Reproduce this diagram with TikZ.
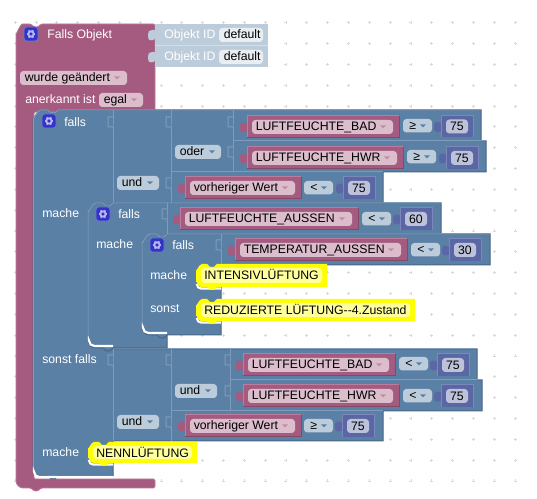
\documentclass[tikz,border=0pt]{standalone}
\usepackage{fontspec}
\setmainfont{Liberation Sans}
\definecolor{bblue}{HTML}{5B80A5}
\definecolor{blight}{HTML}{7F9DBB}
\definecolor{bdark}{HTML}{486684}
\definecolor{fblue}{HTML}{BDCCDB}
\definecolor{bpur}{HTML}{A55B80}
\definecolor{plight}{HTML}{BC7C9C}
\definecolor{pdark}{HTML}{844966}
\definecolor{fpur}{HTML}{DBBDCC}
\definecolor{bnum}{HTML}{5B67A5}
\definecolor{nlight}{HTML}{7C87BC}
\definecolor{fnum}{HTML}{BDC2DB}
\definecolor{idblock}{HTML}{BDCCDB}
\definecolor{idedge}{HTML}{D3DEE8}
\definecolor{idbox}{HTML}{E9EEF3}
\definecolor{yel}{HTML}{FFFF00}
\definecolor{yelin}{HTML}{FFFF9C}
\definecolor{gridc}{HTML}{D9D9D9}
\definecolor{iconb}{HTML}{3333CC}
\tikzset{
  x=0.75pt,y=-0.75pt,
  lbl/.style={anchor=base west,inner sep=0pt,font=\fontsize{9.2}{11}\selectfont},
  lblc/.style={anchor=base,inner sep=0pt,font=\fontsize{9.2}{11}\selectfont},
  sep/.style={draw=blight,line width=0.75pt},
  fld/.style={rounded corners=2.5pt},
}
\newcounter{nn}
% text: colour, x, baseline y, text
\newcommand\tx[4]{\stepcounter{nn}\node[lbl,text=#1] (t\thenn) at (#2,#3) {#4};}
\newcommand\gearic[2]{%
  \fill[iconb,draw=blight!70!iconb,line width=0.6pt,rounded corners=2pt] (#1-7,#2-7) rectangle (#1+7,#2+7);
  \draw[white!65!iconb,line width=1.4pt] (#1,#2) circle (2.7);
  \foreach \a in {0,60,...,300}{\draw[white!65!iconb,line width=1.1pt] (#1,#2) ++(\a:3) -- ++(\a:1.3);}
}
% nub on the left of a value block
\newcommand\nub[3]{\fill[#3,rounded corners=1.5pt] (#1+1,#2+8) -- (#1-3,#2+6) -- (#1-7,#2+7) -- (#1-7,#2+16) -- (#1-3,#2+17) -- (#1+1,#2+15) -- cycle;}
% variable block: x1, x2, y1, text
\newcommand\valb[4]{%
  \nub{#1}{#3}{bpur}
  \fill[bpur] (#1,#3) rectangle (#2,#3+22);
  \draw[plight,line width=0.75pt] (#1,#3+22) -- (#1,#3) -- (#2,#3);
  \draw[pdark,line width=0.75pt] (#2,#3) -- (#2,#3+22) -- (#1,#3+22);
  \fill[fpur,fld] (#1+5,#3+4) rectangle (#2-6,#3+18);
  \tx{black}{#1+8.5}{#3+15}{#4}
  \fill[bpur!70!white] (#2-19,#3+9.5) -- (#2-13,#3+9.5) -- (#2-16,#3+12.5) -- cycle;
}
% operator dropdown: x1, y1, symbol
\newcommand\opb[3]{%
  \fill[fblue,fld] (#1,#2) rectangle (#1+29,#2+13.5);
  \tx{black}{#1+6}{#2+10.5}{#3}
  \fill[bblue] (#1+17,#2+5.5) -- (#1+23,#2+5.5) -- (#1+20,#2+8.5) -- cycle;
}
% number block: x1, y1, number
\newcommand\numb[3]{%
  \nub{#1}{#2}{bnum}
  \fill[bnum] (#1,#2) rectangle (#1+32,#2+22);
  \draw[nlight,line width=0.75pt] (#1,#2+22) -- (#1,#2) -- (#1+32,#2) -- (#1+32,#2+22);
  \fill[fnum,fld] (#1+5,#2+4) rectangle (#1+27,#2+18);
  \stepcounter{nn}\node[lblc,text=black] (t\thenn) at (#1+16,#2+15.5) {#3};
}
% dropdown with a word: x1, x2, y1, colours
\newcommand\ddb[6]{%
  \fill[#4,fld] (#1,#3) rectangle (#2,#3+14);
  \tx{black}{#1+#6}{#3+11}{#5}
}
\newcommand\ddarrow[3]{\fill[#3] (#1-3,#2) -- (#1+3,#2) -- (#1,#2+3) -- cycle;}
% input slot on a divider: x, y
\newcommand\slot[2]{\draw[blight,line width=0.75pt,fill=bblue] (#1,#2-5) -- (#1-5,#2-5) -- (#1-5,#2+5) -- (#1,#2+5) -- (#1+0.5,#2+8);}
% yellow text block: x1, x2, y1, y2, text
\newcommand\yelb[5]{%
  \fill[yel] (#1,#3+6) to[out=-90,in=180] (#1+6,#3) -- (#1+11,#3) -- (#1+14,#3+3) -- (#1+18,#3+3) -- (#1+21,#3) -- (#2,#3) -- (#2,#4) -- (#1+21,#4) -- (#1+18,#4+3) -- (#1+14,#4+3) -- (#1+11,#4) -- (#1+5,#4) to[out=180,in=90] (#1,#4-5) -- cycle;
  \fill[yelin,fld] (#1+5,#3+4) rectangle (#2-5,#4-4);
  \tx{black}{#1+8}{#3+16}{#5}
}
\newcommand\cornerw[3]{\draw[white,line width=1.6pt,rounded corners=4pt] (#1+1,#3-6) -- (#1+1,#3-1) -- (#2,#3-1);}
\begin{document}
\begin{tikzpicture}
\useasboundingbox (0,0) rectangle (537,499);
\fill[white] (0,0) rectangle (537,499);
% workspace grid
\foreach \i in {0,...,24}{\foreach \j in {0,...,22}{
  \draw[gridc,line width=0.6pt] (15.2+20.83*\i-1.5,22.7+20.83*\j) -- ++(3,0) (15.2+20.83*\i,22.7+20.83*\j-1.5) -- ++(0,3);
}}
% hat block
\draw[fill=bpur,draw=plight,line width=0.6pt,rounded corners=1pt]
  (16,32) to[out=-90,in=180] (24,24) -- (31,24) -- (34,27) -- (38,27) -- (41,24) -- (155,24) -- (155,112) -- (34,112) -- (34,479) -- (155,479) -- (155,488) -- (41,488) -- (38,491) -- (34,491) -- (31,488) -- (24,488) to[out=180,in=-90] (16,480) -- cycle;
% object id blocks
\fill[idblock] (155,24) rectangle (268,67);
\draw[idedge,line width=0.75pt] (155,45.5) -- (268,45.5);
\fill[idblock,rounded corners=1.5pt] (156,30) -- (150,30) -- (148,32) -- (148,39) -- (150,41) -- (156,39) -- cycle;
\fill[idblock,rounded corners=1.5pt] (156,52) -- (150,52) -- (148,54) -- (148,61) -- (150,63) -- (156,61) -- cycle;
\tx{white}{164}{38.5}{Objekt ID}
\tx{white}{164}{60.8}{Objekt ID}
\ddb{219}{263}{28}{idbox}{default}{4.5}
\ddb{219}{263}{50}{idbox}{default}{4.5}
\gearic{31}{34}
\tx{white}{47}{38.5}{Falls Objekt}
\ddb{20}{127}{71}{fpur}{wurde geändert}{4.5}
\ddarrow{117}{76.5}{bpur!70!white}
\tx{white}{25}{104}{anerkannt ist}
\ddb{99}{143}{93}{fpur}{egal}{4.5}
\ddarrow{134}{98.5}{bpur!70!white}
% outer blue block
\draw[fill=bblue,draw=bdark,line width=0.75pt]
  (33,118) to[out=-90,in=180] (41,110) -- (48,110) -- (51,113) -- (55,113) -- (58,110) -- (481,110) -- (481,141) -- (486,141) -- (486,172) -- (383,172) -- (383,203) -- (113,203) -- (113,349) -- (477,349) -- (477,380) -- (482,380) -- (482,411) -- (383,411) -- (383,441) -- (113,441) -- (113,476) -- (58,476) -- (55,479) -- (51,479) -- (48,476) -- (41,476) to[out=180,in=-90] (33,468) -- cycle;
\draw[sep] (33,118) to[out=-90,in=180] (41,110) -- (48,110) -- (51,113) -- (55,113) -- (58,110) -- (481,110);
\draw[sep] (33,118) -- (33,468);
\draw[sep] (113,110) -- (113,203) (171,110) -- (171,203) (233,110) -- (233,172);
\draw[sep] (233,141) -- (486,141) (171,172) -- (383,172) (113,349) -- (477,349) (113,349) -- (113,441) (171,349) -- (171,441) (230,349) -- (230,411) (230,380) -- (482,380) (171,411) -- (383,411);
\cornerw{33}{113}{478}
% second block
\draw[fill=bblue,draw=bdark,line width=0.75pt]
  (88,211) to[out=-90,in=180] (96,203) -- (103,203) -- (106,206) -- (110,206) -- (113,203) -- (441,203) -- (441,234) -- (167,234) -- (167,348) -- (113,348) -- (110,351) -- (106,351) -- (103,348) -- (96,348) to[out=180,in=-90] (88,340) -- cycle;
\draw[sep] (88,340) -- (88,211) to[out=-90,in=180] (96,203) -- (103,203) -- (106,206) -- (110,206) -- (113,203) -- (441,203);
\cornerw{88}{113}{347}
% third block
\draw[fill=bblue,draw=bdark,line width=0.75pt]
  (142,242) to[out=-90,in=180] (150,234) -- (157,234) -- (160,237) -- (164,237) -- (167,234) -- (490,234) -- (490,265) -- (221,265) -- (221,335) -- (167,335) -- (164,338) -- (160,338) -- (157,335) -- (150,335) to[out=180,in=-90] (142,327) -- cycle;
\draw[sep] (142,327) -- (142,242) to[out=-90,in=180] (150,234) -- (157,234) -- (160,237) -- (164,237) -- (167,234) -- (490,234);
\cornerw{142}{167}{334}
\draw[sep] (167,203) -- (167,234) (221,234) -- (221,265);
% slots
\slot{113}{122}\slot{171}{122}\slot{233}{122}\slot{233}{152}\slot{171}{183}
\slot{167}{214}\slot{221}{245}
\slot{113}{360}\slot{171}{360}\slot{230}{360}\slot{230}{391}\slot{171}{422}
% labels on blue
\gearic{49}{121}
\tx{white}{64}{126.3}{falls}
\tx{white}{42}{217.5}{mache}
\gearic{103}{214}
\tx{white}{118}{218.3}{falls}
\tx{white}{96}{248.3}{mache}
\gearic{157}{245}
\tx{white}{172}{249.3}{falls}
\tx{white}{150}{279.3}{mache}
\tx{white}{150}{313}{sonst}
\tx{white}{42}{364}{sonst falls}
\tx{white}{42}{456.3}{mache}
% word dropdowns
\ddb{175}{221}{145}{fblue}{oder}{4.5}\ddarrow{212}{150.5}{bblue}
\ddb{117}{159}{176}{fblue}{und}{4.5}\ddarrow{150}{181.5}{bblue}
\ddb{175}{217}{384}{fblue}{und}{4.5}\ddarrow{208}{389.5}{bblue}
\ddb{117}{159}{415}{fblue}{und}{4.5}\ddarrow{150}{420.5}{bblue}
% upper conditions
\valb{247}{399}{116}{LUFTFEUCHTE\_BAD}\opb{403}{119}{≥}\numb{441}{115.5}{75}
\valb{247}{403}{147}{LUFTFEUCHTE\_HWR}\opb{407}{150}{≥}\numb{446}{147}{75}
\valb{185}{301}{177}{vorheriger Wert}\opb{304}{181}{<}\numb{343}{177}{75}
\valb{180}{358}{208}{LUFTFEUCHTE\_AUSSEN}\opb{362}{212}{<}\numb{400}{208}{60}
\valb{235}{407}{239}{TEMPERATUR\_AUSSEN}\opb{411}{243}{<}\numb{449}{239}{30}
% lower conditions
\valb{243}{395}{354}{LUFTFEUCHTE\_BAD}\opb{399}{357}{<}\numb{437}{354}{75}
\valb{243}{399}{385}{LUFTFEUCHTE\_HWR}\opb{403}{389}{<}\numb{441}{385}{75}
\valb{185}{301}{415}{vorheriger Wert}\opb{304}{419}{≥}\numb{342}{415}{75}
% yellow blocks
\draw[white,line width=1.6pt,rounded corners=3pt] (197,284) -- (197,288.5) -- (221,288.5);
\draw[white,line width=1.6pt,rounded corners=3pt] (197,318) -- (197,322.5) -- (221,322.5);
\draw[white,line width=1.6pt,rounded corners=3pt] (89,460) -- (89,464.5) -- (113,464.5);
\yelb{196}{327}{264}{287}{INTENSIVLÜFTUNG}
\yelb{196}{415}{299}{321}{REDUZIERTE LÜFTUNG-{}-4.Zustand}
\yelb{88}{197}{442}{463}{NENNLÜFTUNG}
\end{tikzpicture}
\end{document}
